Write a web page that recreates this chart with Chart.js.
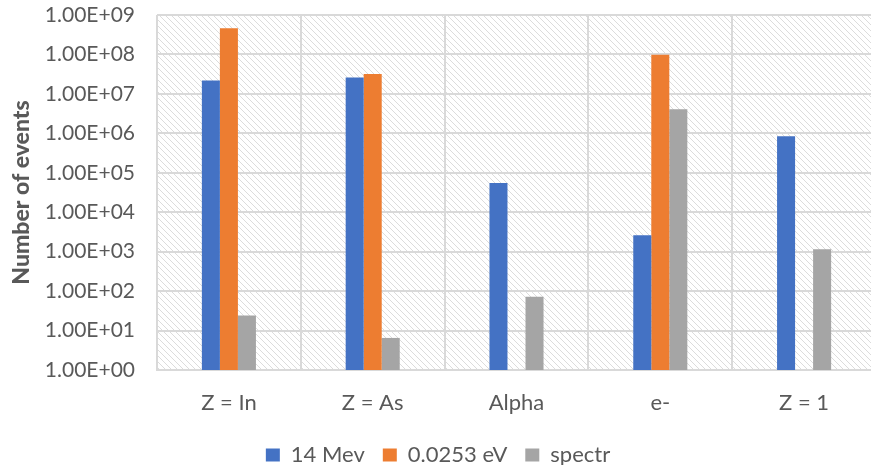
<!DOCTYPE html>
<html>
<head>
<meta charset="utf-8">
<script src="https://cdn.jsdelivr.net/npm/chart.js@4"></script>
<style>
html,body{margin:0;padding:0;background:#fff;overflow:hidden;width:871px;height:465px;}
canvas{display:block;}
</style>
</head>
<body>
<canvas id="c" width="876" height="476"></canvas>
<script>
const categories = ["Z = In", "Z = As", "Alpha", "e-", "Z = 1"];
const seriesNames = ["14 Mev", "0.0253 eV", "spectr"];
const mev14 = [2.2e7, 2.6e7, 5.5e4, 2.6e3, 8.4e5];
const thermal = [4.6e8, 3.2e7, null, 9.8e7, null];
const spectr = [24, 6.5, 72, 4.1e6, 1150];
const tickValues = [1, 1e1, 1e2, 1e3, 1e4, 1e5, 1e6, 1e7, 1e8, 1e9];
const tickLabels = ["1.00E+00","1.00E+01","1.00E+02","1.00E+03","1.00E+04","1.00E+05","1.00E+06","1.00E+07","1.00E+08","1.00E+09"];
const colors = ["#4472C4", "#ED7D31", "#A5A5A5"];

function makePattern(ctx){
  const p = document.createElement('canvas');
  p.width = 6; p.height = 6;
  const g = p.getContext('2d');
  g.strokeStyle = '#dcdcdc';
  g.lineWidth = 1;
  g.beginPath();
  g.moveTo(-1,-1); g.lineTo(7,7);
  g.moveTo(-1,5); g.lineTo(1,7);
  g.moveTo(5,-1); g.lineTo(7,1);
  g.stroke();
  return ctx.createPattern(p, 'repeat');
}

const bgPlugin = {
  id: 'hatchBg',
  beforeDraw(chart){
    const {ctx, chartArea:a} = chart;
    ctx.save();
    ctx.fillStyle = makePattern(ctx);
    ctx.fillRect(a.left, a.top, a.right - a.left, a.bottom - a.top);
    ctx.restore();
  }
};

const tickFont = {family: 'Lato', size: 21};
const labFont = {family: 'Lato', size: 22};
new Chart(document.getElementById('c'), {
  type: 'bar',
  data: {
    labels: categories,
    datasets: [
      {label: seriesNames[0], data: mev14, backgroundColor: colors[0]},
      {label: seriesNames[1], data: thermal, backgroundColor: colors[1]},
      {label: seriesNames[2], data: spectr, backgroundColor: colors[2]}
    ]
  },
  options: {
    responsive: false,
    animation: false,
    devicePixelRatio: 1,
    layout: {padding: {top: 15, left: 0, right: 0, bottom: 0}},
    datasets: {bar: {categoryPercentage: 0.376, barPercentage: 1.0}},
    plugins: {
      tooltip: {enabled: false},
      legend: {
        position: 'bottom',
        labels: {color: '#595959', font: labFont, boxWidth: 14, boxHeight: 13, padding: 18}
      }
    },
    scales: {
      x: {
        grid: {color: '#d9d9d9', lineWidth: 2, offset: true, drawTicks: false},
        border: {display: true, color: '#d9d9d9', width: 2},
        ticks: {color: '#595959', font: labFont, padding: 20},
        afterFit(s){ s.height = 56; s.paddingLeft = 0; s.paddingRight = 0; }
      },
      y: {
        type: 'logarithmic',
        min: 1, max: 1e9,
        grid: {color: '#d9d9d9', lineWidth: 2, drawTicks: false},
        border: {display: false},
        ticks: {
          color: '#595959', font: tickFont, padding: 22,
          callback(v){ const i = tickValues.indexOf(v); return i >= 0 ? tickLabels[i] : ''; }
        },
        afterBuildTicks(s){ s.ticks = tickValues.map(v => ({value: v})); },
        title: {display: true, text: 'Number of events', color: '#595959',
                font: {family: 'Lato', size: 23, weight: '900'}, padding: {top: 8, bottom: 0}},
        afterFit(s){ s.width = 157; s.paddingTop = 0; s.paddingBottom = 0; }
      }
    }
  },
  plugins: [bgPlugin]
});
</script>
</body>
</html>
